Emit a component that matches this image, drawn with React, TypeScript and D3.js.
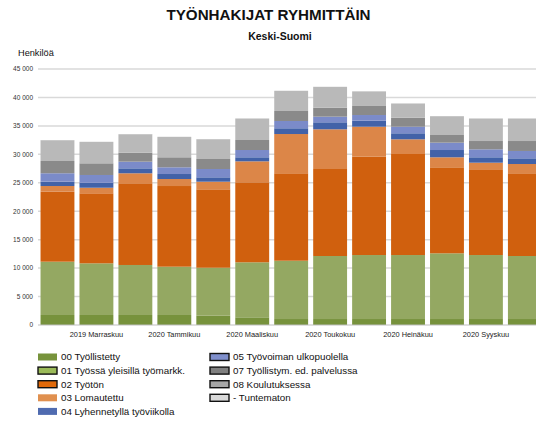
import React from "react";
import * as d3 from "d3";

const months = [
  "2019 Lokakuu", "2019 Marraskuu", "2019 Joulukuu", "2020 Tammikuu", "2020 Helmikuu",
  "2020 Maaliskuu", "2020 Huhtikuu", "2020 Toukokuu", "2020 Kesäkuu", "2020 Heinäkuu",
  "2020 Elokuu", "2020 Syyskuu", "2020 Lokakuu",
];

const seriesNames = [
  "00 Työllistetty",
  "01 Työssä yleisillä työmarkk.",
  "02 Työtön",
  "03 Lomautettu",
  "04 Lyhennetyllä työviikolla",
  "05 Työvoiman ulkopuolella",
  "07 Työllistym. ed. palvelussa",
  "08 Koulutuksessa",
  "- Tuntematon",
];

const s00 = [1760, 1760, 1760, 1760, 1630, 1350, 1050, 1050, 1050, 1050, 1050, 1050, 1050];
const s01 = [9370, 9080, 8790, 8490, 8440, 9670, 10250, 11080, 11250, 11250, 11550, 11250, 11080];
const s02 = [12300, 12310, 14360, 14180, 13780, 14060, 15370, 15290, 17280, 17760, 15120, 14950, 14540];
const s03 = [1000, 980, 1760, 1230, 1340, 3690, 6900, 6980, 5280, 2580, 1760, 1280, 1630];
const s04 = [760, 880, 870, 880, 770, 710, 1010, 1230, 1050, 1060, 1280, 950, 1000];
const s05 = [1480, 1360, 1170, 1180, 1460, 1280, 1280, 990, 1000, 1160, 1290, 1400, 1290];
const s07 = [2160, 2050, 1580, 1760, 1760, 1760, 1760, 1580, 1590, 1580, 1350, 1460, 1750];
const s08 = [3660, 3770, 3250, 3590, 3480, 3780, 3540, 3660, 2570, 2500, 3310, 3960, 3960];
const sTun = [30, 30, 30, 30, 30, 30, 30, 30, 30, 30, 30, 30, 30];

const yTicks = [0, 5000, 10000, 15000, 20000, 25000, 30000, 35000, 40000, 45000];

const barColors = ["#77923c", "#94a862", "#d0600e", "#dc8648", "#4262a8", "#7b8bc9", "#8a8a8a", "#b9b9b9", "#dadada"];
const legendColors = ["#77933c", "#9bbb59", "#e0690a", "#e0904f", "#4f6bb0", "#7f8fcc", "#808080", "#a6a6a6", "#d9d9d9"];
const legendBorder = [false, true, true, false, false, true, true, true, true];

const W = 536;
const H = 421;

export default function App() {
  const allSeries = [s00, s01, s02, s03, s04, s05, s07, s08, sTun];
  const rows = months.map((m, i) => {
    const r: any = { month: m };
    seriesNames.forEach((n, k) => (r[n] = allSeries[k][i]));
    return r;
  });
  const stack = d3.stack<any>().keys(seriesNames)(rows);

  const x = d3.scaleBand<string>().domain(months).range([38, 38 + 13 * 38.95]).paddingInner(0.13).paddingOuter(0.065);
  const y = d3.scaleLinear().domain([0, 45000]).range([325, 69]);
  const fmt = (v: number) => d3.format(",")(v).replace(/,/g, " ");

  const font = "Arial, 'Liberation Sans', sans-serif";

  return (
    <svg width={W} height={H} style={{ position: "absolute", left: 0, top: 0, background: "#fff" }} fontFamily={font}>
      <text x={268.5} y={20} textAnchor="middle" fontSize={15.2} fontWeight="bold" fill="#111">
        TYÖNHAKIJAT RYHMITTÄIN
      </text>
      <text x={280} y={40} textAnchor="middle" fontSize={10.5} fontWeight="bold" fill="#111">
        Keski-Suomi
      </text>
      <text x={18} y={56} fontSize={9.2} fill="#111">Henkilöä</text>

      {yTicks.map((t) => (
        <g key={t}>
          {t > 0 && <line x1={38} x2={W} y1={y(t)} y2={y(t)} stroke="#d9d9d9" strokeWidth={1.5} />}
          <text x={33} y={y(t) + 2.3} textAnchor="end" fontSize={6.5} fill="#333">{fmt(t)}</text>
        </g>
      ))}

      {stack.map((layer, k) => (
        <g key={layer.key} fill={barColors[k]}>
          {layer.map((d, i) => (
            <rect key={i} x={x(months[i])} width={x.bandwidth()} y={y(d[1])} height={Math.max(0, y(d[0]) - y(d[1]))} />
          ))}
        </g>
      ))}

      <line x1={38} x2={W} y1={y(0)} y2={y(0)} stroke="#bfbfbf" strokeWidth={1} />

      {months.map((m, i) =>
        i % 2 === 1 ? (
          <text key={m} x={(x(m) as number) + x.bandwidth() / 2} y={337} textAnchor="middle" fontSize={7.4} fill="#222">
            {m}
          </text>
        ) : null
      )}

      {seriesNames.map((n, k) => {
        const col = k < 5 ? 0 : 1;
        const row = k < 5 ? k : k - 5;
        const sx = col === 0 ? 38 : 210;
        const cy = 357 + row * 13.6;
        return (
          <g key={n}>
            <rect x={sx} y={cy - 3.5} width={19} height={7} fill={legendColors[k]}
              stroke={legendBorder[k] ? "#111" : "none"} strokeWidth={1.4} />
            <text x={sx + 23} y={cy + 3.3} fontSize={9.8} fill="#111">{n}</text>
          </g>
        );
      })}
    </svg>
  );
}
